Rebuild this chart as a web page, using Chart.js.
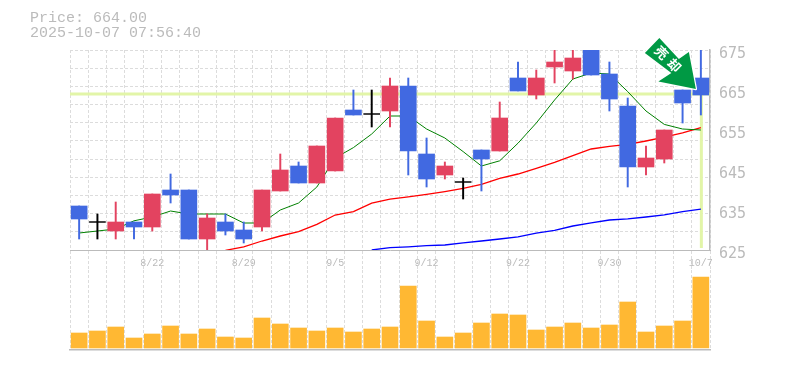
<!DOCTYPE html>
<html><head><meta charset="utf-8">
<script src="https://cdn.jsdelivr.net/npm/chart.js@4/dist/chart.umd.min.js"></script>
<style>
html,body{margin:0;padding:0;background:#fff;width:785px;height:370px;overflow:hidden}
canvas{position:absolute;left:0;top:0}
#t{position:absolute;left:30px;top:11px;font:15px/15px "Liberation Mono",monospace;color:#bbb;white-space:pre;z-index:3}
</style></head><body>
<canvas id="v" width="785" height="370"></canvas>
<canvas id="p" width="785" height="370"></canvas>
<div id="t"></div>
<script>
const titleLines=["Price: 664.00","2025-10-07 07:56:40"];
const signalLabel="売却";
const currentPrice=664;
const categories=["8/18","8/19","8/20","8/21","8/22","8/25","8/26","8/27","8/28","8/29","9/1","9/2","9/3","9/4","9/5","9/8","9/9","9/10","9/11","9/12","9/16","9/17","9/18","9/19","9/22","9/24","9/25","9/26","9/29","9/30","10/1","10/2","10/3","10/6","10/7"];
const opens=[636,632.1,629.75,632,630.75,640,640,627.75,632,630,630.75,639.75,646,641.75,644.75,660,659.1,659.75,666,649,643.75,642.1,650,649.75,668,663.75,670.75,669.75,675.5,669,661,645.75,647.75,665,668];
const closes=[632.75,631.9,632,630.75,639,638.75,627.75,633,629.75,627.75,640,645,641.75,651,658,658.75,658.9,666,649.75,642.75,646,641.9,647.75,658,664.75,668,672,673,668.75,662.75,645.75,648,655,661.75,663.75];
const highs=[636,634,637,632,639,644,640,634,634,632,640,649,647,651,658,665,665,668,668,653,647,643,650,662,672,670,676,676,675.5,672,663,651,655,665,676];
const lows=[627.75,627.75,627.75,627.75,629.75,636.75,627.75,624,628.75,626.75,629.75,639.75,641.75,641.75,644.75,658.75,655.75,655.75,643.75,640.75,642.75,637.75,639.75,649.75,664.75,662.75,666.75,667.75,668.75,659.75,640.75,643.75,646.75,656.75,658.75];
const maShort=[629.25,629.75,630.25,632.3,633.25,634.75,634,634,634,631.75,631.75,635,636.75,640.75,648,650.6,654,658.5,658.5,655.25,653,649.6,646,647.3,651.7,656.75,662.5,667.75,669.25,669,664.6,659.75,656.4,655.25,655];
const maMid=[null,null,null,null,null,null,null,null,624.9,625.8,627.25,628.5,629.6,631.4,633.75,634.6,636.7,637.7,638.3,638.9,639.6,640.4,641.4,642.9,644,645.4,646.9,648.6,650.25,650.9,651.4,652.25,653.2,654.3,655.6];
const maLong=[null,null,null,null,null,null,null,null,null,null,null,null,null,null,null,null,625,625.6,625.8,626.1,626.25,626.8,627.25,627.75,628.3,629.2,629.9,631,631.8,632.5,632.8,633.25,633.8,634.6,635.2];
const volume=[15,17,21,10,14,22,14,19,11,10,30,24,20,17,20,16,19,21,62,27,11,15,25,34,33,18,21,25,20,23,46,16,22,27,71];

const BLUE="#4169e1",RED="#e34360",BLACK="#000000",GRID="#dcdcdc",AXIS="#bbbbbb",NOW="#e2f5a8",TXT="#bbbbbb";
const DASH=[3,2];
document.getElementById("t").textContent=titleLines.join("\n");
const kind=i=>Math.abs(opens[i]-closes[i])<0.5?BLACK:(closes[i]<opens[i]?BLUE:RED);
const colors=categories.map((_,i)=>kind(i));
const last=categories.length-1;

const overlay={id:"overlay",
 beforeDatasetsDraw(c){
  const {ctx,chartArea:a,scales:{x,y}}=c,py=y.getPixelForValue(currentPrice),px=x.getPixelForValue(last);
  ctx.save();ctx.fillStyle=NOW;
  ctx.fillRect(a.left,py-1.5,a.right-a.left,3);
  ctx.fillRect(px-1,py,3,y.getPixelForValue(625)-py-2);
  ctx.restore();
 },
 afterDraw(c){
  const {ctx,scales:{x,y}}=c,tx=x.getPixelForValue(last)-5,ty=y.getPixelForValue(currentPrice)-5;
  const shape=[[-36.5,-51],[-51,-36],[-24.5,-16],[-37.5,-7.5],[0,0],[-7,-37],[-17,-30]];
  ctx.save();ctx.beginPath();
  shape.forEach(([dx,dy],i)=>i?ctx.lineTo(tx+dx,ty+dy):ctx.moveTo(tx+dx,ty+dy));
  ctx.closePath();ctx.lineJoin="round";ctx.lineWidth=2.5;ctx.strokeStyle="#fff";ctx.stroke();
  ctx.fillStyle="#009944";ctx.fill();
  ctx.translate(tx-28,ty-30);ctx.rotate(Math.PI/4);
  ctx.fillStyle="#fff";ctx.font='bold 13px "Noto Sans CJK JP"';ctx.textAlign="center";ctx.textBaseline="middle";
  ctx.fillText(signalLabel[0],-9,0);ctx.fillText(signalLabel[1],9,0);
  ctx.restore();
 }};

const line=(data,color,width,order)=>({type:"line",data,borderColor:color,borderWidth:width,pointRadius:0,tension:0,order,spanGaps:false});
new Chart(document.getElementById("p"),{
 data:{labels:categories,datasets:[
  line(maLong,"#0000ff",1.3,5),line(maMid,"#ff0000",1.3,4),line(maShort,"#008000",1,3),
  {type:"bar",data:categories.map((_,i)=>[lows[i],highs[i]]),backgroundColor:colors,barThickness:1.3,grouped:false,order:2},
  {type:"bar",data:categories.map((_,i)=>[opens[i],closes[i]]),backgroundColor:colors,barThickness:16,grouped:false,order:1}
 ]},
 plugins:[overlay],
 options:{responsive:false,animation:false,devicePixelRatio:1,
  layout:{padding:{left:70,top:50,right:0,bottom:0}},
  plugins:{legend:{display:false},tooltip:{enabled:false}},
  scales:{
   x:{type:"category",offset:true,afterFit:s=>{s.height=120},
    grid:{offset:true,drawOnChartArea:true,drawTicks:true,tickLength:20,
     color:c=>c.index===categories.length?AXIS:GRID,lineWidth:1,
     tickColor:c=>c.index===categories.length?AXIS:GRID,tickBorderDash:DASH,tickWidth:1},
    border:{color:AXIS,width:1,dash:DASH},
    ticks:{autoSkip:false,maxRotation:0,minRotation:0,padding:-13,color:TXT,font:{family:'"Liberation Mono",monospace',size:10},
     callback:(v,i)=>i%5===4?categories[i]:""}},
   y:{position:"right",min:625,max:675,afterFit:s=>{s.width=75},
    ticks:{stepSize:10,padding:9,labelOffset:4,color:TXT,font:{family:'"DejaVu Sans Mono",monospace',size:15}},
    grid:{display:false,drawTicks:false},border:{color:AXIS,width:1.5}},
   yGrid:{position:"right",min:625,max:675,afterFit:s=>{s.width=0},
    afterBuildTicks:s=>{s.ticks=Array.from({length:12},(_,i)=>({value:625+i*50/11}))},
    ticks:{display:false},
    grid:{color:c=>c.index===0?"rgba(0,0,0,0)":GRID,lineWidth:1,drawTicks:false},border:{display:false,dash:DASH}}
  }}
});
new Chart(document.getElementById("v"),{
 data:{labels:categories,datasets:[{type:"bar",data:volume,backgroundColor:"#ffb833",barThickness:16}]},
 options:{responsive:false,animation:false,devicePixelRatio:1,
  layout:{padding:{left:70,top:270,right:75,bottom:0}},
  plugins:{legend:{display:false},tooltip:{enabled:false}},
  scales:{
   x:{type:"category",offset:true,afterFit:s=>{s.height=20},
    grid:{offset:true,color:c=>c.index===categories.length?AXIS:GRID,lineWidth:1,drawTicks:false},
    border:{color:AXIS,width:1.5,dash:DASH},ticks:{display:false}},
   y:{display:false,min:-2,max:78}
  }}
});
</script></body></html>
